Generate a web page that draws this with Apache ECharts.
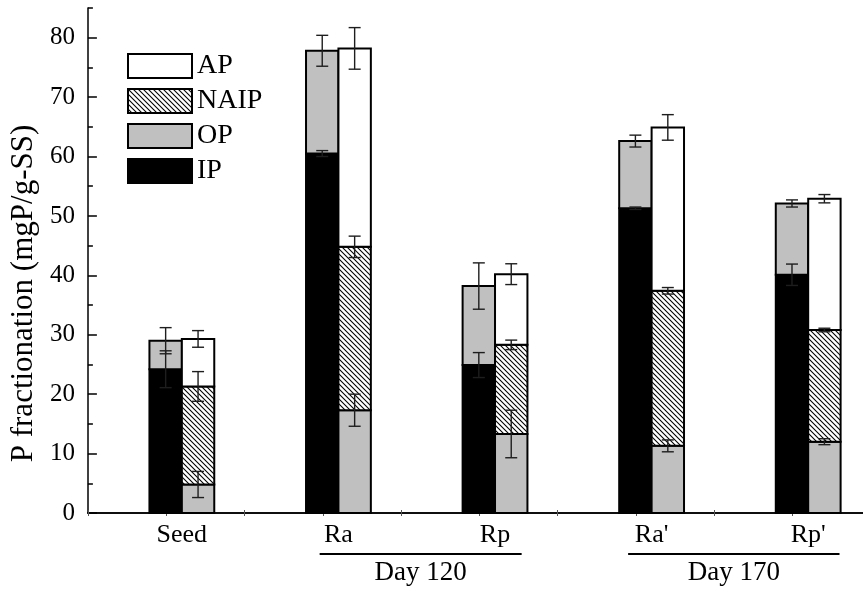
<!DOCTYPE html>
<html>
<head>
<meta charset="utf-8">
<script src="https://cdn.jsdelivr.net/npm/echarts@6/dist/echarts.min.js"></script>
<style>
  html, body { margin: 0; padding: 0; background: #fff; }
  #chart { width: 863px; height: 591px; }
</style>
</head>
<body>
<div id="chart"></div>
<script>
// Sample groups along the x axis
const categories = ['Seed', 'Ra', 'Rp', "Ra'", "Rp'"];

// Left bar of each pair: IP stacked with OP
const ip = [24.2, 60.5, 24.9, 51.3, 40.1];
const ipErr = [3.1, 0.5, 2.1, 0.2, 1.8];
const op = [4.8, 17.3, 13.3, 11.3, 12.0];
const leftTotalErr = [2.2, 2.6, 3.9, 1.0, 0.6];

// Right bar of each pair: OP, then NAIP, then AP
const opErr = [2.2, 2.7, 4.0, 1.0, 0.5];
const naip = [16.5, 27.5, 15.0, 26.1, 18.8];
const naipErr = [2.5, 1.8, 0.8, 0.55, 0.3];
const ap = [8.0, 33.4, 11.9, 27.5, 22.1];
const apErr = [1.4, 3.5, 1.75, 2.15, 0.7];

// Bracketed group captions under the axis: [label, from x, to x]
const groupLabels = ['Day 120', 'Day 170'];
const groupFrom = [1.88, 3.85];
const groupTo = [3.17, 5.2];

const FONT = '"Liberation Serif", "Times New Roman", serif';
const BAR_W = 0.207;           // bar width in x-axis units
const GRAY = '#c0c0c0';
const ERR_COLOR = '#1e1e1e';

// Diagonal hatch used for NAIP
function makeHatch() {
  const n = 5;
  const c = document.createElement('canvas');
  c.width = n; c.height = n;
  const g = c.getContext('2d');
  g.fillStyle = '#fff';
  g.fillRect(0, 0, n, n);
  g.strokeStyle = '#000';
  g.lineWidth = 1.1;
  for (const off of [-n, 0, n]) {
    g.beginPath();
    g.moveTo(off - 1, -1);
    g.lineTo(off + n + 1, n + 1);
    g.stroke();
  }
  return c;
}
const hatch = { type: 'pattern', image: makeHatch(), repeat: 'repeat' };

const xs = categories.map((_, i) => i + 1);
const leftX = xs.map(x => x - BAR_W / 2);
const rightX = xs.map(x => x + BAR_W / 2);

// segment data: [x, bottom, top]
const seg = (xArr, base, val) => xArr.map((x, i) => [x, base[i], base[i] + val[i]]);
const zeros = categories.map(() => 0);
const leftTop = ip.map((v, i) => v + op[i]);
const rightOpTop = op.slice();
const rightNaipTop = op.map((v, i) => v + naip[i]);
const rightTop = rightNaipTop.map((v, i) => v + ap[i]);

const ipSeg = seg(leftX, zeros, ip);
const opLeftSeg = seg(leftX, ip, op);
const opRightSeg = seg(rightX, zeros, op);
const naipSeg = seg(rightX, rightOpTop, naip);
const apSeg = seg(rightX, rightNaipTop, ap);

// error bars: [x, value, err]
const errData = [];
xs.forEach((x, i) => {
  errData.push([leftX[i], ip[i], ipErr[i]]);
  errData.push([leftX[i], leftTop[i], leftTotalErr[i]]);
  errData.push([rightX[i], rightOpTop[i], opErr[i]]);
  errData.push([rightX[i], rightNaipTop[i], naipErr[i]]);
  errData.push([rightX[i], rightTop[i], apErr[i]]);
});

function barRender(fill) {
  return function (params, api) {
    const x = api.value(0), y0 = api.value(1), y1 = api.value(2);
    const half = BAR_W / 2;
    const p0 = api.coord([x - half, y1]);
    const p1 = api.coord([x + half, y0]);
    return {
      type: 'rect',
      shape: { x: p0[0], y: p0[1], width: p1[0] - p0[0], height: p1[1] - p0[1] },
      style: { fill: fill, stroke: '#000', lineWidth: 2 }
    };
  };
}

function errRender(params, api) {
  const x = api.value(0), v = api.value(1), e = api.value(2);
  const t = api.coord([x, v + e]);
  const b = api.coord([x, v - e]);
  const cap = 6;
  const st = { stroke: ERR_COLOR, lineWidth: 1.4 };
  return {
    type: 'group',
    children: [
      { type: 'line', shape: { x1: t[0], y1: t[1], x2: b[0], y2: b[1] }, style: st },
      { type: 'line', shape: { x1: t[0] - cap, y1: t[1], x2: t[0] + cap, y2: t[1] }, style: st },
      { type: 'line', shape: { x1: b[0] - cap, y1: b[1], x2: b[0] + cap, y2: b[1] }, style: st }
    ]
  };
}

function catLabelRender(params, api) {
  const p = api.coord([api.value(0), 0]);
  return {
    type: 'text',
    x: p[0], y: p[1] + 9,
    style: {
      text: categories[params.dataIndex], fill: '#000',
      font: '26px ' + FONT, align: 'center', verticalAlign: 'top'
    }
  };
}

function groupRender(params, api) {
  const a = api.coord([api.value(0), 0]);
  const b = api.coord([api.value(1), 0]);
  const ly = a[1] + 41;
  return {
    type: 'group',
    children: [
      { type: 'line', shape: { x1: a[0], y1: ly, x2: b[0], y2: ly }, style: { stroke: '#000', lineWidth: 2 } },
      {
        type: 'text', x: (a[0] + b[0]) / 2, y: ly + 5,
        style: {
          text: groupLabels[params.dataIndex], fill: '#000',
          font: '27px ' + FONT, align: 'center', verticalAlign: 'top'
        }
      }
    ]
  };
}

const legendBox = (name, color) => ({
  name: name, icon: 'rect',
  itemStyle: { color: color, borderColor: '#000', borderWidth: 2 }
});

const chart = echarts.init(document.getElementById('chart'), null, { renderer: 'canvas' });
chart.setOption({
  animation: false,
  backgroundColor: '#fff',
  grid: { left: 86, top: 8, bottom: 78, right: 0, containLabel: false },
  legend: {
    orient: 'vertical', left: 127, top: 52, padding: 0,
    itemWidth: 64, itemHeight: 24, itemGap: 7,
    selectedMode: false,
    textStyle: { fontFamily: FONT, fontSize: 28, color: '#000' },
    data: [
      legendBox('AP', '#fff'),
      legendBox('NAIP', hatch),
      legendBox('OP', GRAY),
      legendBox('IP', '#000')
    ]
  },
  xAxis: [
    {
      type: 'value', position: 'bottom', min: 0.4, max: 5.35, interval: 0.5,
      axisLine: { show: true, lineStyle: { color: '#000', width: 1.5 } },
      axisTick: { show: true, inside: true, length: 3, lineStyle: { color: '#555' } },
      axisLabel: { show: false }, splitLine: { show: false }
    },
    {
      type: 'value', position: 'top', min: 0.4, max: 5.35, interval: 0.5,
      axisLine: { show: true, lineStyle: { color: '#000', width: 1.5 } },
      axisTick: { show: true, inside: true, length: 3, lineStyle: { color: '#555' } },
      axisLabel: { show: false }, splitLine: { show: false }
    }
  ],
  yAxis: [
    {
      type: 'value', position: 'left', min: 0, max: 85, interval: 10,
      name: 'P fractionation (mgP/g-SS)', nameLocation: 'middle', nameRotate: 90, nameGap: 41,
      nameTextStyle: { fontFamily: FONT, fontSize: 31, color: '#000', padding: [0, 66, 0, 0] },
      axisLine: { show: true, lineStyle: { color: '#000', width: 1.5 } },
      axisTick: { show: true, inside: true, length: 9, lineStyle: { color: '#000', width: 1.5 } },
      axisLabel: { fontFamily: FONT, fontSize: 25, color: '#000', margin: 13, showMaxLabel: false },
      splitLine: { show: false }
    },
    {
      type: 'value', position: 'left', min: 0, max: 85, interval: 5,
      axisLine: { show: false },
      axisTick: { show: true, inside: true, length: 5, lineStyle: { color: '#000', width: 1.5 } },
      axisLabel: { show: false }, splitLine: { show: false }
    }
  ],
  series: [
    { name: 'IP', type: 'custom', itemStyle: { color: '#000' }, renderItem: barRender('#000'), data: ipSeg, z: 2 },
    { name: 'OP', type: 'custom', itemStyle: { color: GRAY }, renderItem: barRender(GRAY), data: opLeftSeg, z: 2 },
    { name: 'OP', type: 'custom', itemStyle: { color: GRAY }, renderItem: barRender(GRAY), data: opRightSeg, z: 2 },
    { name: 'NAIP', type: 'custom', itemStyle: { color: hatch }, renderItem: barRender(hatch), data: naipSeg, z: 2 },
    { name: 'AP', type: 'custom', itemStyle: { color: '#fff' }, renderItem: barRender('#fff'), data: apSeg, z: 2 },
    { name: 'err', type: 'custom', renderItem: errRender, data: errData, z: 3 },
    { name: 'cats', type: 'custom', renderItem: catLabelRender, data: xs.map(x => [x, 0]), z: 3, clip: false, silent: true },
    { name: 'groups', type: 'custom', renderItem: groupRender, data: groupFrom.map((f, i) => [f, groupTo[i]]), z: 3, clip: false, silent: true }
  ]
});
</script>
</body>
</html>
